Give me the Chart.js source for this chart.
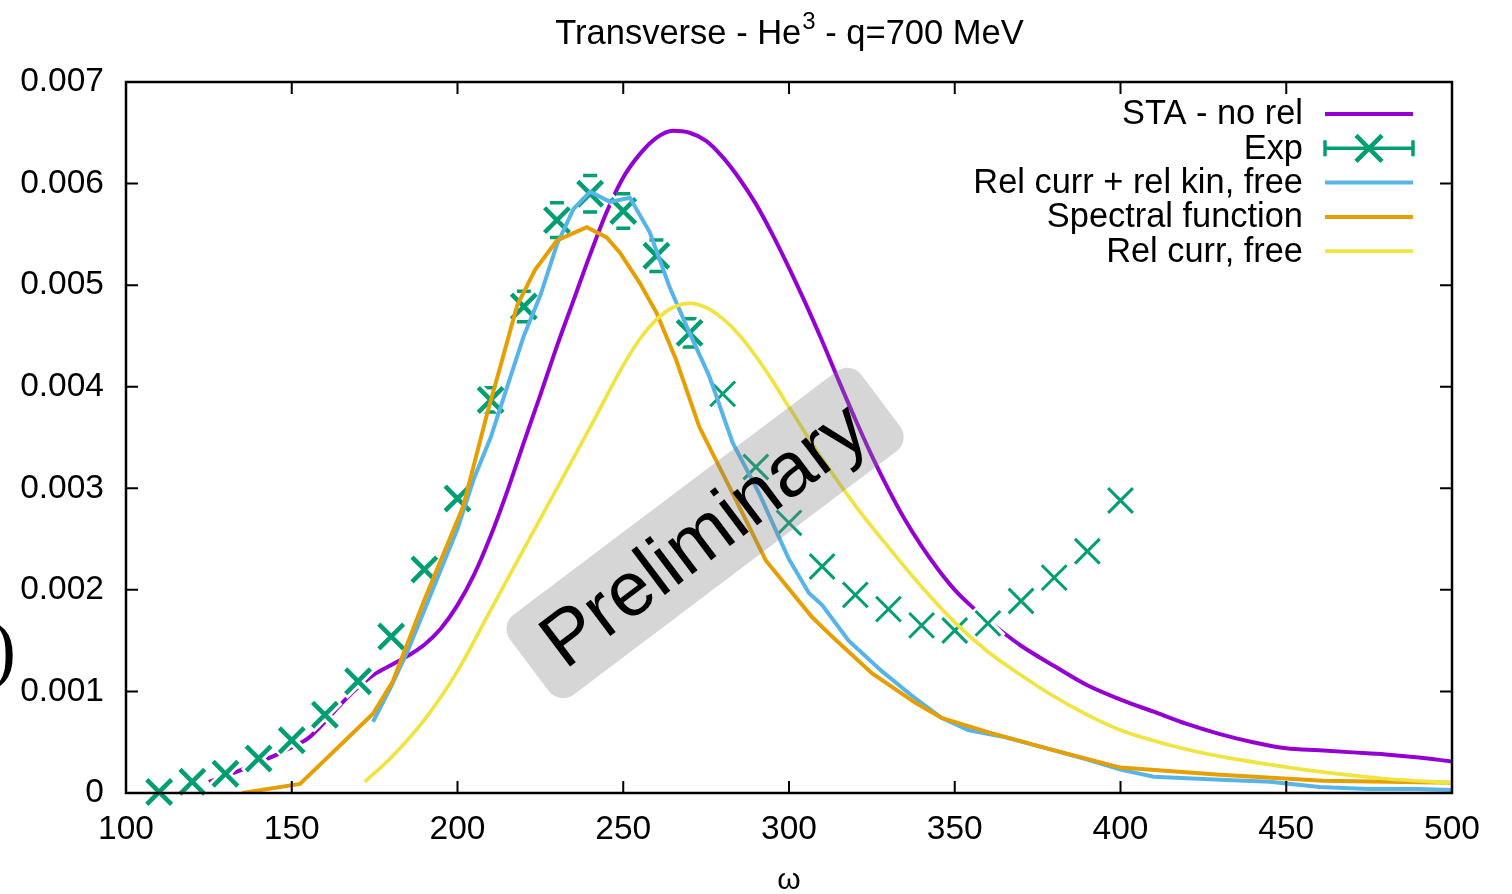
<!DOCTYPE html>
<html>
<head>
<meta charset="utf-8">
<title>Transverse - He3 - q=700 MeV</title>
<script src="https://cdn.jsdelivr.net/npm/chart.js@4.4.1/dist/chart.umd.min.js"></script>
<style>
  html, body { margin: 0; padding: 0; background: #fff; }
  #wrap { width: 1512px; height: 894px; position: relative; }
</style>
</head>
<body>
<div id="wrap"><canvas id="response-chart"></canvas></div>
<script>
const FONT = '"Liberation Sans", Arial, Helvetica, sans-serif';

// axis ticks
const omegaTicks = [100, 150, 200, 250, 300, 350, 400, 450, 500];
const responseTicks = [0, 0.001, 0.002, 0.003, 0.004, 0.005, 0.006, 0.007];
const responseTickLabels = ['0', '0.001', '0.002', '0.003', '0.004', '0.005', '0.006', '0.007'];

// STA - no rel
const staOmega = [125, 130, 135, 140, 145, 150, 155, 160, 165, 170, 175, 180, 185, 190, 195, 200, 205, 210, 215, 220,
  225, 230, 235, 240, 245, 250, 255, 260, 265, 270, 275, 280, 285, 290, 295, 300, 305, 310, 315, 320,
  325, 330, 335, 340, 345, 350, 355, 360, 365, 370, 380, 390, 400, 410, 420, 430, 440, 450, 460, 470, 480, 490, 500];
const staResp = [0.00011, 0.00017, 0.00023, 0.0003, 0.00037, 0.00045, 0.00054, 0.0007, 0.00088, 0.00104, 0.00117, 0.00126, 0.00135, 0.00146, 0.00162, 0.00185, 0.00215, 0.00253, 0.00297, 0.00345,
  0.00392, 0.0044, 0.00485, 0.0053, 0.00572, 0.00606, 0.00629, 0.00645, 0.00652, 0.0065, 0.00642, 0.00626, 0.00605, 0.0058, 0.0055, 0.00517, 0.00482, 0.00445, 0.00406, 0.00368,
  0.00332, 0.00299, 0.00269, 0.00243, 0.0022, 0.002, 0.00184, 0.0017, 0.00157, 0.00145, 0.00125, 0.00106, 0.00092, 0.0008, 0.00068, 0.00058, 0.0005, 0.00044, 0.00042, 0.0004, 0.00038, 0.00035, 0.00031];

// Exp data with y errors
const expOmega = [110, 120, 130, 140, 150, 160, 170, 180, 190, 200, 210, 220, 230, 240, 250,
  260, 270, 280, 290, 300, 310, 320, 330, 340, 350, 360, 370, 380, 390, 400];
const expResp = [0.00001, 0.00011, 0.00019, 0.00034, 0.00052, 0.00077, 0.0011, 0.00154, 0.0022, 0.0029, 0.00387, 0.00479, 0.00564, 0.0059, 0.00573,
  0.00529, 0.00453, 0.00393, 0.00321, 0.00266, 0.00223, 0.00195, 0.00181, 0.00165, 0.0016, 0.00167, 0.00189, 0.00212, 0.00238, 0.00288];
const expErr = [0, 0, 0, 0, 0, 0, 0, 0, 0, 0, 0.00012, 0.00015, 0.00017, 0.00018, 0.00017,
  0.000155, 0.00014, 0, 0, 0, 0, 0, 0, 0, 0, 0, 0, 0, 0, 0];

// Rel curr + rel kin, free
const relKinOmega = [174.5, 180, 185, 190, 195, 200, 205, 210, 215, 220, 225, 230, 235, 240, 246, 252, 258, 264, 270, 276,
  283, 291, 300, 306, 310, 318, 328, 337, 346, 354, 365, 380, 390, 400, 410, 430, 445, 460, 475, 490, 500];
const relKinResp = [0.0007, 0.00105, 0.0014, 0.0018, 0.0022, 0.0026, 0.0031, 0.0035, 0.004, 0.0045, 0.0049, 0.0054, 0.00575, 0.00592, 0.00582, 0.00586, 0.00552, 0.00498, 0.00453, 0.0041,
  0.00345, 0.00295, 0.0023, 0.00197, 0.00185, 0.0015, 0.0012, 0.00096, 0.00074, 0.00062, 0.00055, 0.00042, 0.00033, 0.00023, 0.00016, 0.00013, 0.00011, 0.00006, 0.00004, 0.00004, 0.00003];

// Spectral function
const spectralOmega = [135, 152.5, 174.5, 180.5, 190, 201.7, 209, 213.7, 218, 223.4, 230, 239, 245, 249, 255, 260, 266, 273, 283, 293,
  307, 313, 325, 338, 346, 360, 380, 400, 430, 461, 500];
const spectralResp = [0, 0.00009, 0.00078, 0.0011, 0.0019, 0.00282, 0.00374, 0.00429, 0.0048, 0.00515, 0.00544, 0.00557, 0.00547, 0.00532, 0.00502, 0.00473, 0.00426, 0.0036, 0.00295, 0.00229,
  0.00173, 0.00154, 0.00118, 0.00089, 0.00074, 0.0006, 0.00042, 0.00025, 0.00018, 0.00012, 0.0001];

// Rel curr, free
const relFreeOmega = [172, 180, 190, 200, 210, 220, 230, 240, 250, 255, 260, 265, 270, 275, 280, 285, 290, 295, 300, 310,
  320, 330, 340, 350, 360, 370, 380, 390, 400, 415, 430, 445, 460, 480, 500];
const relFreeResp = [0.00011, 0.00035, 0.00072, 0.0012, 0.0018, 0.0024, 0.003, 0.0036, 0.00421, 0.00447, 0.00466, 0.00478, 0.00482, 0.00478, 0.00467, 0.00451, 0.0043, 0.00406, 0.0038, 0.00329,
  0.00283, 0.00242, 0.00203, 0.00168, 0.00139, 0.00116, 0.00095, 0.00077, 0.00062, 0.00047, 0.00036, 0.00028, 0.00021, 0.00014, 0.0001];

const points = (xs, ys) => xs.map((x, i) => ({ x: x, y: ys[i] }));

const expWidth = ctx => (ctx.raw && ctx.raw.x > 275 ? 3 : 4.5);

//error bar caps go under the white outline of the exp crosses
const errorBars = {
  id: 'errorBars',
  beforeDatasetDraw(chart, args) {
    if (!chart.data.datasets[args.index].outline) return;
    const ctx = chart.ctx;
    const xs = chart.scales.x;
    const ys = chart.scales.y;
    ctx.save();
    ctx.strokeStyle = '#009e73';
    ctx.lineWidth = 3.5;
    ctx.beginPath();
    expOmega.forEach((w, i) => {
      if (!expErr[i]) return;
      const px = xs.getPixelForValue(w);
      const top = ys.getPixelForValue(expResp[i] + expErr[i]);
      const bot = ys.getPixelForValue(expResp[i] - expErr[i]);
      ctx.moveTo(px - 7, top);
      ctx.lineTo(px + 7, top);
      ctx.moveTo(px - 7, bot);
      ctx.lineTo(px + 7, bot);
    });
    ctx.stroke();
    ctx.restore();
  }
};

//grey "Preliminary" stamp over the curves
const stamp = {
  id: 'stamp',
  afterDatasetsDraw(chart) {
    const ctx = chart.ctx;
    const cx = chart.scales.x.getPixelForValue(274.7);
    const cy = chart.scales.y.getPixelForValue(0.00256);
    const w = 440, h = 100, r = 18;
    ctx.save();
    ctx.translate(cx, cy);
    ctx.rotate(-37 * Math.PI / 180);
    ctx.fillStyle = 'rgba(128, 128, 128, 0.32)';
    ctx.beginPath();
    ctx.roundRect(-w / 2, -h / 2, w, h, r);
    ctx.fill();
    ctx.fillStyle = '#000';
    ctx.font = '77px ' + FONT;
    ctx.textAlign = 'center';
    ctx.textBaseline = 'middle';
    ctx.fillText('Preliminary', -2, 4);
    ctx.restore();
  }
};

//frame, inward ticks on all four sides, title and key
const frame = {
  id: 'frame',
  afterDraw(chart) {
    const ctx = chart.ctx;
    const area = chart.chartArea;
    const xs = chart.scales.x;
    const ys = chart.scales.y;
    ctx.save();
    ctx.strokeStyle = '#000';
    ctx.lineWidth = 2;
    ctx.beginPath();
    omegaTicks.forEach(v => {
      const px = xs.getPixelForValue(v);
      ctx.moveTo(px, area.bottom);
      ctx.lineTo(px, area.bottom - 12);
      ctx.moveTo(px, area.top);
      ctx.lineTo(px, area.top + 12);
    });
    responseTicks.forEach(v => {
      const py = ys.getPixelForValue(v);
      ctx.moveTo(area.left, py);
      ctx.lineTo(area.left + 12, py);
      ctx.moveTo(area.right, py);
      ctx.lineTo(area.right - 12, py);
    });
    ctx.stroke();
    ctx.lineWidth = 2.5;
    ctx.strokeRect(area.left, area.top, area.right - area.left, area.bottom - area.top);

    // title with a raised 3
    const mid = (area.left + area.right) / 2;
    const partA = 'Transverse - He';
    const partB = '3';
    const partC = ' - q=700 MeV';
    ctx.fillStyle = '#000';
    ctx.textBaseline = 'alphabetic';
    ctx.textAlign = 'left';
    ctx.font = '34.5px ' + FONT;
    const wa = ctx.measureText(partA).width;
    const wc = ctx.measureText(partC).width;
    ctx.font = '24px ' + FONT;
    const wb = ctx.measureText(partB).width;
    const tx = mid - (wa + wb + wc) / 2;
    ctx.font = '34.5px ' + FONT;
    ctx.fillText(partA, tx, 44);
    ctx.font = '24px ' + FONT;
    ctx.fillText(partB, tx + wa + 1, 29);
    ctx.font = '34.5px ' + FONT;
    ctx.fillText(partC, tx + wa + wb + 1, 44);

    // cut-off y label
    ctx.font = '76px "Liberation Serif", "DejaVu Serif", serif';
    ctx.textAlign = 'right';
    ctx.textBaseline = 'middle';
    ctx.fillText(')', 16, 654);

    // key
    const textRight = area.right - 149;
    const x0 = area.right - 127;
    const x1 = area.right - 39;
    let row = 0;
    chart.data.datasets.forEach(ds => {
      if (ds.outline) return;
      const y = area.top + 32 + row * 34.3;
      row++;
      ctx.font = '34.4px ' + FONT;
      ctx.textAlign = 'right';
      ctx.textBaseline = 'middle';
      ctx.fillStyle = '#000';
      ctx.fillText(ds.label, textRight, y + 1);
      if (ds.showLine === false) {
        const c = (x0 + x1) / 2;
        ctx.strokeStyle = ds.pointBorderColor;
        ctx.lineWidth = 3.5;
        ctx.beginPath();
        ctx.moveTo(x0, y); ctx.lineTo(x1, y);
        ctx.moveTo(x0, y - 8); ctx.lineTo(x0, y + 8);
        ctx.moveTo(x1, y - 8); ctx.lineTo(x1, y + 8);
        ctx.stroke();
        ctx.lineWidth = 4.5;
        ctx.beginPath();
        ctx.moveTo(c - 13, y - 13); ctx.lineTo(c + 13, y + 13);
        ctx.moveTo(c - 13, y + 13); ctx.lineTo(c + 13, y - 13);
        ctx.stroke();
      } else {
        ctx.strokeStyle = ds.borderColor;
        ctx.lineWidth = ds.borderWidth;
        ctx.beginPath();
        ctx.moveTo(x0, y); ctx.lineTo(x1, y);
        ctx.stroke();
      }
    });
    ctx.restore();
  }
};

const responseChart = document.querySelector('#response-chart');

new Chart(responseChart, {
  type: 'line',
  data: {
    datasets: [{
      label: 'STA - no rel',
      data: points(staOmega, staResp),
      borderColor: '#9400d3',
      borderWidth: 4,
      pointRadius: 0,
      cubicInterpolationMode: 'monotone',
      order: 6
    }, {
      label: 'Exp',
      data: points(expOmega, expResp),
      showLine: false,
      pointStyle: 'crossRot',
      pointRadius: 17.5,
      pointHoverRadius: 17.5,
      pointBorderColor: '#009e73',
      pointBackgroundColor: '#009e73',
      pointBorderWidth: expWidth,
      pointHoverBorderWidth: expWidth,
      clip: false,
      order: 4
    }, {
      label: 'Rel curr + rel kin, free',
      data: points(relKinOmega, relKinResp),
      borderColor: '#56b4e9',
      borderWidth: 4,
      pointRadius: 0,
      tension: 0,
      order: 3
    }, {
      label: 'Spectral function',
      data: points(spectralOmega, spectralResp),
      borderColor: '#e69f00',
      borderWidth: 4,
      pointRadius: 0,
      tension: 0,
      order: 2
    }, {
      label: 'Rel curr, free',
      data: points(relFreeOmega, relFreeResp),
      borderColor: '#f0e442',
      borderWidth: 3.7,
      pointRadius: 0,
      cubicInterpolationMode: 'monotone',
      order: 1
    }, {
      label: 'Exp outline',
      outline: true,
      data: points(expOmega, expResp),
      showLine: false,
      pointStyle: 'crossRot',
      pointRadius: 20,
      pointHoverRadius: 20,
      pointBorderColor: '#fff',
      pointBackgroundColor: '#fff',
      pointBorderWidth: 10,
      pointHoverBorderWidth: 10,
      clip: false,
      order: 5
    }]
  },
  options: {
    responsive: true,
    maintainAspectRatio: false,
    animation: false,
    events: [],
    layout: { padding: { top: 82, right: 60, left: 0, bottom: 0 } },
    plugins: {
      legend: { display: false },
      tooltip: { enabled: false },
      title: { display: false }
    },
    scales: {
      x: {
        type: 'linear',
        min: 100,
        max: 500,
        afterFit: s => { s.height = 101; },
        afterBuildTicks: s => { s.ticks = omegaTicks.map(v => ({ value: v })); },
        grid: { display: false, drawTicks: false },
        border: { display: false },
        ticks: { color: '#000', padding: 17, maxRotation: 0, autoSkip: false, font: { family: FONT, size: 33.5 } },
        title: { display: true, text: 'ω', color: '#000', padding: { top: 0, bottom: -5 }, font: { family: FONT, size: 30 } }
      },
      y: {
        type: 'linear',
        min: 0,
        max: 0.007,
        afterFit: s => { s.width = 126; },
        afterBuildTicks: s => { s.ticks = responseTicks.map(v => ({ value: v })); },
        grid: { display: false, drawTicks: false },
        border: { display: false },
        ticks: {
          color: '#000',
          padding: 22,
          font: { family: FONT, size: 33.5 },
          callback: (v, i) => responseTickLabels[i]
        }
      }
    }
  },
  plugins: [errorBars, stamp, frame]
});
</script>
</body>
</html>
